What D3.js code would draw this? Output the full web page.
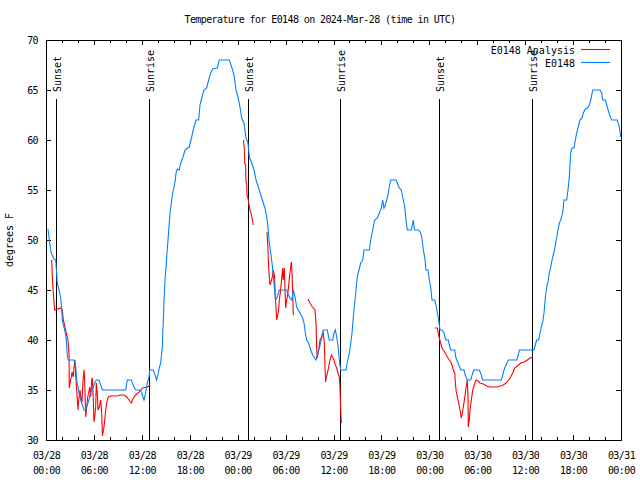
<!DOCTYPE html>
<html><head><meta charset="utf-8">
<script src="https://cdn.jsdelivr.net/npm/d3@7"></script>
<style>
body{margin:0;background:#fff}
svg{display:block}
text{font-family:"DejaVu Sans Mono",monospace;font-size:10px;fill:#000}
.small{font-size:10px;letter-spacing:-0.6px}
</style>
</head><body>
<svg id="c" width="640" height="480"></svg>
<script>
// ---------------- data ----------------
const chartTitle = "Temperature for E0148 on 2024-Mar-28 (time in UTC)";
const yAxisLabel = "degrees F";
const seriesNames = ["E0148 Analysis", "E0148"];
const seriesColors = ["#ff0000", "#0080ff"];
const yTicks = [30, 35, 40, 45, 50, 55, 60, 65, 70];
const xTickHours = [0, 6, 12, 18, 24, 30, 36, 42, 48, 54, 60, 66, 72];
const xTickDates = ["03/28","03/28","03/28","03/28","03/29","03/29","03/29","03/29","03/30","03/30","03/30","03/30","03/31"];
const xTickTimes = ["00:00","06:00","12:00","18:00","00:00","06:00","12:00","18:00","00:00","06:00","12:00","18:00","00:00"];
const sunEvents = ["Sunset","Sunrise","Sunset","Sunrise","Sunset","Sunrise"];
const sunHours  = [1.29, 12.94, 25.33, 36.85, 49.25, 60.89];

// observed E0148 (hours since 2024-03-28 00:00 UTC, deg F)
const obsHours = [0.25,0.50,0.66,1.00,1.21,1.34,1.41,1.63,1.84,1.97,2.04,2.25,2.47,2.59,2.67,2.79,3.51,3.72,3.84,4.01,4.13,4.35,4.55,4.76,4.97,5.17,5.38,5.60,5.80,6.10,6.30,6.64,6.85,7.05,9.98,10.18,10.68,11.02,11.23,11.86,12.06,12.27,12.48,12.68,12.90,12.99,13.44,13.65,13.86,14.06,14.19,14.36,14.56,14.69,14.78,14.90,15.03,15.15,15.28,15.40,15.53,15.69,15.86,16.03,16.19,16.28,16.44,16.69,16.87,17.12,17.41,17.69,17.94,18.24,18.53,18.78,19.12,19.28,19.53,19.78,20.12,20.37,20.62,20.87,21.45,21.70,22.95,23.25,23.54,23.79,24.04,24.29,24.50,24.79,25.04,25.29,25.46,25.76,26.05,26.30,26.58,26.71,27.01,27.21,27.42,27.64,27.80,27.96,28.14,28.30,28.46,28.59,28.76,28.96,29.21,30.14,30.34,30.55,30.77,30.97,31.18,31.39,31.59,31.81,32.14,32.31,32.47,32.64,32.89,33.15,33.40,33.65,33.81,33.97,34.22,34.47,34.72,35.22,35.47,35.90,36.06,36.23,36.40,36.56,36.73,36.90,37.57,37.73,37.98,38.16,38.32,38.48,38.66,38.82,38.98,39.19,39.41,39.66,39.82,40.48,40.66,40.91,41.16,41.49,41.74,41.99,42.16,42.32,42.49,42.66,42.82,42.99,43.16,43.83,43.99,44.24,44.49,44.67,44.92,45.08,45.24,45.74,45.92,46.00,46.12,46.67,46.92,47.05,47.25,47.42,47.58,47.83,48.00,48.17,48.33,48.67,48.83,49.00,49.17,49.34,49.55,49.84,50.05,50.38,50.50,50.68,51.18,51.34,51.59,51.93,52.34,52.50,52.75,53.18,53.43,53.59,54.26,54.51,54.68,57.01,57.19,57.35,57.60,57.89,58.94,59.14,59.27,61.11,61.27,61.44,61.69,61.86,62.02,62.20,62.36,62.52,62.70,62.90,63.02,63.20,63.36,63.52,63.74,63.95,64.11,64.28,64.45,64.70,64.86,65.20,65.36,65.53,65.70,65.86,66.11,66.28,66.45,66.65,66.87,67.12,67.28,67.53,67.78,68.03,68.21,68.46,69.37,69.58,69.71,70.04,70.21,70.46,70.71,70.84,71.54,71.79,71.97];
const obsTemps = [51.1,49.5,48.7,48.1,48,46.7,45.7,45,44.2,43.2,42,41.3,40.5,39.5,38.5,38,38,37.3,36,35.3,34.7,34,33.5,33,33,33.5,34,34.8,35,35.7,36,36,35.5,35,35,36,36,35.3,35,35,34.5,34,34.7,35.7,36.3,37,37,36.5,36,36.7,37.2,37.7,39.3,42,44,46,47.3,48.7,50,51.3,52.7,53.7,54.7,55.3,56,56.7,57.1,57,57.7,58.2,59,59.2,59.3,60.3,61.3,62,62,63.5,64.3,65,65.2,66,66.7,67.1,67.2,68,68,67.3,66.5,65,64.3,63.3,62.2,61.7,60.2,59.7,58.3,57.7,57,56,55.3,55,54.2,53.7,53.2,52.3,51.3,49.7,48.7,47.7,46.5,45.3,44,44.3,45,45,44.5,44.2,44,45,44.3,43.3,43,42.7,42.2,41.7,40.7,40,39.7,39,38.5,38.2,38,38.5,39.2,40,41,41,40,40,40.7,41,40.3,39.5,38,37,37,37.8,38.7,39.7,40.7,42.3,43.7,45,46.3,47,47.7,48,49,49,50,51,52,52.2,52.7,53.2,54,53.2,53.5,54,54.5,55.3,56,56,55.7,55.2,55,54.3,53.3,52,51,51,51.7,52,51,51,50.7,50.3,49,48.3,47,47,46,45.3,44,44,43.5,42.7,42,41,41,40.7,40,40,39.5,39,39,38.2,37.7,37,37,36.5,36,36,36.7,37,37,36.5,36,36,36.5,37,37.5,38,38,38.5,39,39,39.5,40,40,40.7,41.3,41.8,42.7,44.2,45.3,46,46.7,47.3,48,48.5,49.3,50.3,51,51.7,52,52.7,54,54,55,56.3,58.7,59.2,59.2,60,60.7,61.3,62,62.2,62.7,63.1,63.2,63.5,64,65,65,64.7,64,64,63.5,62.8,62.2,62,62,61.3,60.3];

// E0148 Analysis (null = gap in the record)
const anaHours = [0.71,0.84,1.00,1.09,1.84,2.04,2.17,2.38,2.59,2.75,2.88,2.92,3.01,3.17,3.26,3.42,3.51,3.63,3.76,3.92,4.01,4.09,4.26,4.35,4.51,4.59,4.67,4.76,4.85,4.97,5.10,5.22,5.35,5.47,5.60,5.72,5.80,5.92,6.01,6.10,6.22,6.30,6.42,6.51,6.67,6.85,6.97,7.07,7.26,7.39,7.55,7.68,7.80,8.10,8.93,9.27,9.77,10.11,10.39,10.68,10.93,11.23,11.65,12.06,12.68,13.06,
  null,
  24.71,24.83,24.88,25.00,25.04,25.13,25.17,25.29,25.38,25.54,25.67,25.79,25.96,
  null,
  27.67,27.76,27.84,27.92,28.05,28.17,28.34,28.46,28.63,28.71,28.80,28.88,29.01,29.13,29.21,29.34,29.46,29.55,29.64,29.71,29.84,29.93,30.01,30.14,30.26,30.39,30.51,30.64,30.72,30.81,30.89,30.97,
  null,
  32.81,33.06,33.27,33.47,33.68,33.81,33.90,33.97,34.06,34.18,34.31,34.52,34.65,34.72,34.85,34.94,35.02,35.10,35.27,35.44,35.56,35.73,35.90,36.06,36.23,36.40,36.56,36.73,36.81,36.90,36.98,
  null,
  48.71,49.00,49.08,49.25,49.42,49.59,49.75,50.00,50.25,50.50,50.68,50.84,51.00,51.18,51.25,51.34,51.50,51.68,51.84,52.00,52.13,52.25,52.43,52.59,52.75,52.84,52.88,53.00,53.09,53.26,53.43,53.63,53.84,54.09,54.34,54.76,55.18,55.60,56.44,56.94,57.26,57.60,57.94,58.19,58.44,58.69,59.02,59.44,59.85,60.27,60.61,60.94];
const anaTemps = [48,45.5,43.8,43,43.2,43,42,41.3,40.5,40,38.7,35.2,35.7,36.3,36.8,36.3,37.3,38,36,34,33,34,35,34.3,33.8,35.3,36.3,37,35.7,32.3,33.3,34.3,34.7,35.3,34.3,36,36.2,34,31.8,32.3,33.3,35.7,34.7,33,33.3,34,32.7,30.4,31.3,32.3,33.5,34,34.3,34.4,34.4,34.5,34.5,34.3,34,33.7,34.2,34.5,34.8,35.2,35.3,35.5,
  null,
  60,59.2,57.7,57.5,55.8,55.6,54.5,54.2,53.7,53,52.7,52.2,51.5,
  null,
  50.8,49.7,48,46.7,45.5,45.8,46.3,47,46.3,44.3,43.3,42,42.5,43,44,44.7,45.7,46.5,47.2,46,47.2,45,43.2,44,44.5,45.5,46.5,47.3,47.8,46.7,44.7,42.5,
  null,
  44.1,43.7,43.4,43.2,43,41.7,39,38.2,38.7,39.2,40,40.3,40.8,40.7,39.7,37.2,35.8,36.3,36.8,37.5,38,38.5,38.3,38,37.5,37.2,36.7,36.3,35.3,33,31.7,
  null,
  41.2,41.2,40.8,40.2,39.7,39.2,39,38.7,38.3,38,37.8,37.5,37,36.7,35.8,35,34.3,33.7,33,32.2,32.7,33.3,34.2,35.2,36,34.3,31.3,32,33,34,35,35.5,36,35.9,35.7,35.6,35.4,35.3,35.3,35.4,35.5,35.7,36,36.3,36.7,37.2,37.4,37.7,37.8,38,38.2,38.3];

// ---------------- chart ----------------
const L = 46, R = 621, T = 40, B = 440;
const t0 = Date.UTC(2024, 2, 28, 0, 0);
const toDate = h => new Date(t0 + h * 3600e3);

const svg = d3.select("#c");
const x = d3.scaleUtc().domain([toDate(0), toDate(72)]).range([L, R]);
const y = d3.scaleLinear().domain([30, 70]).range([B, T]);

// title
svg.append("text").attr("class", "small").attr("x", 320).attr("y", 23)
  .attr("text-anchor", "middle").text(chartTitle);

// y label
svg.append("text").attr("transform", `translate(13,240) rotate(-90)`)
  .attr("text-anchor", "middle").text(yAxisLabel);

// axes (gnuplot style: inward ticks on all four sides)
const majorDates = xTickHours.map(toDate);
const minorDates = d3.range(0, 73, 2).map(toDate);

const gx = svg.append("g").attr("transform", `translate(0,${B})`)
  .call(d3.axisBottom(x).tickValues(majorDates).tickSizeInner(-5).tickSizeOuter(0).tickPadding(12));
gx.selectAll(".tick text").each(function(d, i) {
  const t = d3.select(this).text(null).attr("dy", "0.71em");
  t.append("tspan").attr("x", 0).text(xTickDates[i]);
  t.append("tspan").attr("x", 0).attr("dy", 15).text(xTickTimes[i]);
});
svg.append("g").attr("transform", `translate(0,${B})`)
  .call(d3.axisBottom(x).tickValues(minorDates).tickSizeInner(-3).tickSizeOuter(0).tickFormat(""));
svg.append("g").attr("transform", `translate(0,${T})`)
  .call(d3.axisTop(x).tickValues(majorDates).tickSizeInner(-5).tickSizeOuter(0).tickFormat(""));
svg.append("g").attr("transform", `translate(0,${T})`)
  .call(d3.axisTop(x).tickValues(minorDates).tickSizeInner(-3).tickSizeOuter(0).tickFormat(""));
svg.append("g").attr("transform", `translate(${L},0)`)
  .call(d3.axisLeft(y).tickValues(yTicks).tickSizeInner(-5).tickSizeOuter(0).tickPadding(8).tickFormat(d3.format("d")));
svg.append("g").attr("transform", `translate(${R},0)`)
  .call(d3.axisRight(y).tickValues(yTicks).tickSizeInner(-5).tickSizeOuter(0).tickFormat(""));
svg.selectAll(".domain").remove();
svg.selectAll(".tick line").attr("stroke", "#000").attr("shape-rendering", "crispEdges");
svg.selectAll(".tick text").attr("font-family", null).attr("font-size", null)
  .attr("fill", "#000").attr("class", "small");

// frame
svg.append("rect").attr("x", L).attr("y", T).attr("width", R - L).attr("height", B - T)
  .attr("fill", "none").attr("stroke", "#000").attr("shape-rendering", "crispEdges");

// sunrise / sunset markers
const sg = svg.append("g");
sunHours.forEach((h, i) => {
  const xx = Math.round(x(toDate(h))) + 0.5;
  sg.append("line").attr("x1", xx).attr("x2", xx).attr("y1", 99).attr("y2", B)
    .attr("stroke", "#000").attr("shape-rendering", "crispEdges");
  sg.append("text").attr("transform", `translate(${xx + 4.5},92) rotate(-90)`)
    .attr("text-anchor", "start").text(sunEvents[i]);
});

// clip
svg.append("clipPath").attr("id", "pc").append("rect")
  .attr("x", L).attr("y", T).attr("width", R - L).attr("height", B - T);

const line = d3.line().defined(d => d.v != null).x(d => x(d.t)).y(d => y(d.v));

const anaData = anaHours.map((h, i) => ({ t: h == null ? null : toDate(h), v: anaTemps[i] }));
const obsData = obsHours.map((h, i) => ({ t: toDate(h), v: obsTemps[i] }));

const plot = svg.append("g").attr("clip-path", "url(#pc)");
plot.append("path").datum(anaData).attr("d", line)
  .attr("fill", "none").attr("stroke", seriesColors[0]).attr("stroke-width", 1.1);
plot.append("path").datum(obsData).attr("d", line)
  .attr("fill", "none").attr("stroke", seriesColors[1]).attr("stroke-width", 1.1);

// legend
const lg = svg.append("g");
seriesNames.forEach((n, i) => {
  const yy = 49.5 + i * 13;
  lg.append("text").attr("x", 575).attr("y", yy + 4).attr("text-anchor", "end").text(n);
  lg.append("line").attr("x1", 581).attr("x2", 610).attr("y1", yy).attr("y2", yy)
    .attr("stroke", seriesColors[i]).attr("stroke-width", 1.1);
});
</script>
</body></html>
